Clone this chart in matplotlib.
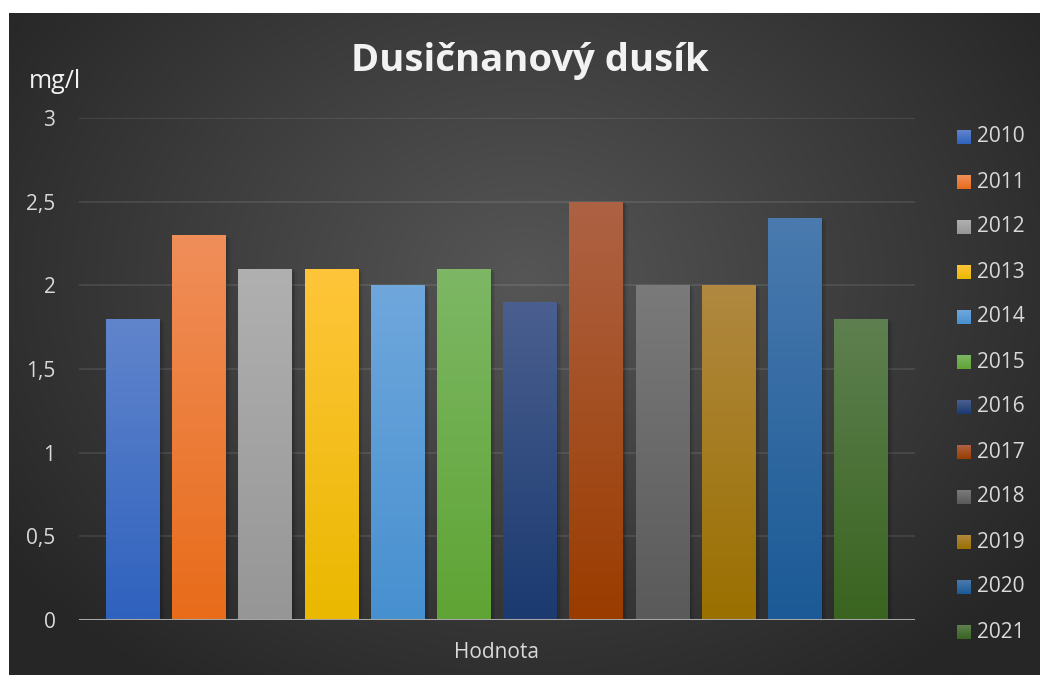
import numpy as np
import matplotlib
matplotlib.use("Agg")
import matplotlib.pyplot as plt
from matplotlib.patches import Rectangle
from matplotlib.colors import to_rgb

years = ["2010", "2011", "2012", "2013", "2014", "2015",
         "2016", "2017", "2018", "2019", "2020", "2021"]
values = [1.8, 2.3, 2.1, 2.1, 2.0, 2.1, 1.9, 2.5, 2.0, 2.0, 2.4, 1.8]
bottom_colors = ["#2F62BE", "#E86C1A", "#969696", "#EAB800", "#4790D0", "#5FA434",
                 "#1B3A70", "#9A3C00", "#5A5A5A", "#9A7000", "#1B5A96", "#3A6420"]
top_colors = ["#6185CC", "#F08E5A", "#B0B0B0", "#FFC53A", "#6FA7DC", "#7DB765",
              "#4A5F8F", "#AE6244", "#7A7A7A", "#B08840", "#4A7AAE", "#5E8050"]
yticks = [0, 0.5, 1, 1.5, 2, 2.5, 3]
ytick_labels = ["0", "0,5", "1", "1,5", "2", "2,5", "3"]
title = "Dusičnanový dusík"
unit = "mg/l"
category = "Hodnota"

W, H = 1040, 675
fig = plt.figure(figsize=(W / 100, H / 100), dpi=100, facecolor="white")
font = "Open Sans"
txt = "#D9D9D9"

# background with radial gradient
bg = fig.add_axes([9 / W, 0, (W - 9) / W, (H - 13) / H])
bg.set_axis_off()
ny, nx = 331, 516
yy, xx = np.mgrid[0:ny, 0:nx]
cx, cy = 0.5 * nx, 0.40 * ny
d = np.sqrt(((xx - cx) / (0.62 * nx)) ** 2 + ((yy - cy) / (0.75 * ny)) ** 2)
d = np.clip(d, 0, 1)
c_in = np.array([0x56, 0x56, 0x56]) / 255
c_out = np.array([0x26, 0x26, 0x26]) / 255
img = c_in[None, None, :] * (1 - d[..., None]) + c_out[None, None, :] * d[..., None]
bg.imshow(img, aspect="auto", extent=[0, 1, 0, 1], origin="upper", interpolation="bilinear")
bg.set_xlim(0, 1)
bg.set_ylim(0, 1)

# main axes
x0, x1 = 79, 915
yb, yt = 620, 118
ax = fig.add_axes([x0 / W, (H - yb) / H, (x1 - x0) / W, (yb - yt) / H])
ax.patch.set_alpha(0)
for s in ax.spines.values():
    s.set_visible(False)

n = len(values)
xpos = np.arange(n)
bw = 54 / 66.3
ax.set_xlim(-(133 - 79) / 66.3, n - 1 + (915 - 861) / 66.3)
ax.set_ylim(0, 3)

ax.set_yticks(yticks)
ax.set_yticklabels(ytick_labels, fontsize=15, color=txt, fontfamily=font)
ax.tick_params(axis="y", length=0, pad=17)
ax.set_xticks([])
for t in yticks[1:]:
    ax.axhline(t, color="white", alpha=0.09, lw=1.5, zorder=0.5)

grad = np.linspace(0, 1, 64)[:, None]
for i, (v, cb, ctp) in enumerate(zip(values, bottom_colors, top_colors)):
    # soft shadow
    for k, a in enumerate([0.10, 0.08, 0.06]):
        ax.add_patch(Rectangle((i - bw / 2 + 0.02 + 0.025 * k, 0), bw, v - 0.01 * k,
                               color="black", alpha=a, lw=0, zorder=1))
    rect = Rectangle((i - bw / 2, 0), bw, v, facecolor=cb, lw=0, zorder=2, label=years[i])
    ax.add_patch(rect)
    cbr, ctr = np.array(to_rgb(cb)), np.array(to_rgb(ctp))
    g = cbr[None, None, :] * (1 - grad[..., None]) + ctr[None, None, :] * grad[..., None]
    im = ax.imshow(g, aspect="auto", extent=[i - bw / 2, i + bw / 2, 0, v],
                   origin="lower", zorder=2.1, interpolation="bilinear")
    im.set_clip_path(rect)
ax.set_xlim(-(133 - 79) / 66.3, n - 1 + (915 - 861) / 66.3)
ax.set_ylim(0, 3)
ax.axhline(0, color="#A6A6A6", lw=2.2, zorder=3)

# title, unit, category label
fig.text(530 / W, 1 - 61 / H, title, ha="center", va="center", fontsize=27.5,
         fontweight="bold", color="#F2F2F2", fontfamily=font)
fig.text(29 / W, 1 - 82 / H, unit, ha="left", va="center", fontsize=18,
         color="#F2F2F2", fontfamily=font)
fig.text(497 / W, 1 - 652 / H, category, ha="center", va="center", fontsize=15,
         color=txt, fontfamily=font)

# legend
for i, (y, ctp, cb) in enumerate(zip(years, top_colors, bottom_colors)):
    py = 137 + 45 * i
    lax = fig.add_axes([957 / W, 1 - (py + 7) / H, 14 / W, 14 / H])
    lax.set_axis_off()
    cbr, ctr = np.array(to_rgb(cb)), np.array(to_rgb(ctp))
    g = cbr[None, None, :] * (1 - grad[..., None]) + ctr[None, None, :] * grad[..., None]
    lax.imshow(g, aspect="auto", extent=[0, 1, 0, 1], origin="lower")
    fig.text(977 / W, 1 - py / H, y, ha="left", va="center", fontsize=15,
             color=txt, fontfamily=font)

fig.savefig("out.png", dpi=100, facecolor="white")
